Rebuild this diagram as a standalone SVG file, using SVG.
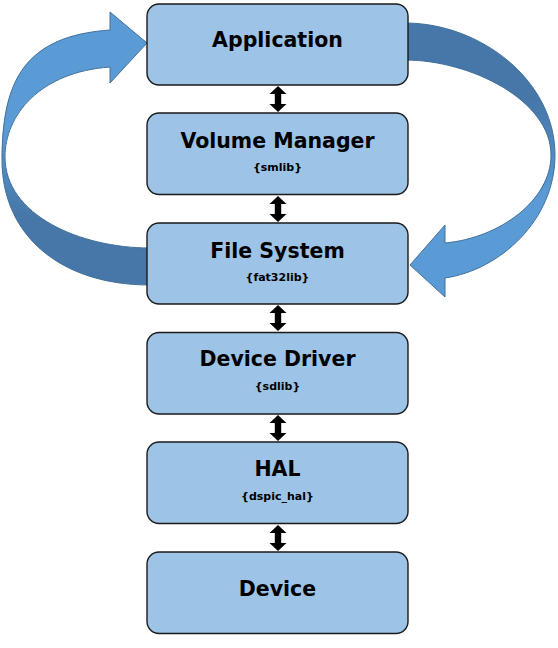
<svg xmlns="http://www.w3.org/2000/svg" width="558" height="648" viewBox="0 0 558 648">
  <defs>
    <linearGradient id="gLeft" gradientUnits="userSpaceOnUse" x1="0" y1="130" x2="0" y2="215">
      <stop offset="0" stop-color="#5b9bd5"/>
      <stop offset="1" stop-color="#4677a8"/>
    </linearGradient>
    <linearGradient id="gRight" gradientUnits="userSpaceOnUse" x1="0" y1="100" x2="0" y2="200">
      <stop offset="0" stop-color="#4677a8"/>
      <stop offset="1" stop-color="#5b9bd5"/>
    </linearGradient>
    <path id="dbl" d="M0,-13 L8.5,-5 L3.2,-5 L3.2,5 L8.5,5 L0,13 L-8.5,5 L-3.2,5 L-3.2,-5 L-8.5,-5 Z"/>
    <style>
      .box { fill: #9dc3e6; stroke: #1a1a1a; stroke-width: 1.4; }
      .title { font-family: "DejaVu Sans", "Liberation Sans", sans-serif; font-weight: bold; font-size: 20.5px; fill: #000000; text-anchor: middle; }
      .sub { font-family: "DejaVu Sans", "Liberation Sans", sans-serif; font-weight: bold; font-size: 11px; fill: #000000; text-anchor: middle; }
      .curve { stroke: #41719c; stroke-width: 1; }
      .dbl { fill: #000000; }
    </style>
  </defs>

  <g id="connectors">
    <path id="loop-left" class="curve" fill="url(#gLeft)" d="M150,285 C60,285 2,235 2,160 C2,80 25,36 110,30 L110,12 L147,43 L110,83 L110,67 C40,72 5,115 5,157 C5,215 80,248 150,248 Z"/>
    <path id="loop-right" class="curve" fill="url(#gRight)" d="M405,23 C480,23 555,80 555,155 C555,220 500,270 445,278 L445,297 L410,265 L445,225 L445,243 C500,238 551,200 551,155 C551,100 470,60 405,60 Z"/>
    <use href="#dbl" class="dbl" x="278" y="99"/>
    <use href="#dbl" class="dbl" x="278" y="209"/>
    <use href="#dbl" class="dbl" x="278" y="318"/>
    <use href="#dbl" class="dbl" x="278" y="428"/>
    <use href="#dbl" class="dbl" x="278" y="538"/>
  </g>

  <g id="application">
    <rect class="box" x="147" y="4" width="261" height="81" rx="12" ry="12"/>
    <text class="title" x="277.5" y="47">Application</text>
  </g>
  <g id="volume-manager">
    <rect class="box" x="147" y="113" width="261" height="81.5" rx="12" ry="12"/>
    <text class="title" x="277.5" y="147.5">Volume Manager</text>
    <text class="sub" x="277.5" y="171">{smlib}</text>
  </g>
  <g id="file-system">
    <rect class="box" x="147" y="223" width="261" height="81" rx="12" ry="12"/>
    <text class="title" x="277.5" y="257.5">File System</text>
    <text class="sub" x="277.5" y="281">{fat32lib}</text>
  </g>
  <g id="device-driver">
    <rect class="box" x="147" y="332.5" width="261" height="81.5" rx="12" ry="12"/>
    <text class="title" x="277.5" y="366">Device Driver</text>
    <text class="sub" x="277.5" y="390">{sdlib}</text>
  </g>
  <g id="hal">
    <rect class="box" x="147" y="442" width="261" height="81.5" rx="12" ry="12"/>
    <text class="title" x="277.5" y="476">HAL</text>
    <text class="sub" x="277.5" y="500">{dspic_hal}</text>
  </g>
  <g id="device">
    <rect class="box" x="147" y="552" width="261" height="81.5" rx="12" ry="12"/>
    <text class="title" x="277.5" y="596">Device</text>
  </g>
</svg>
